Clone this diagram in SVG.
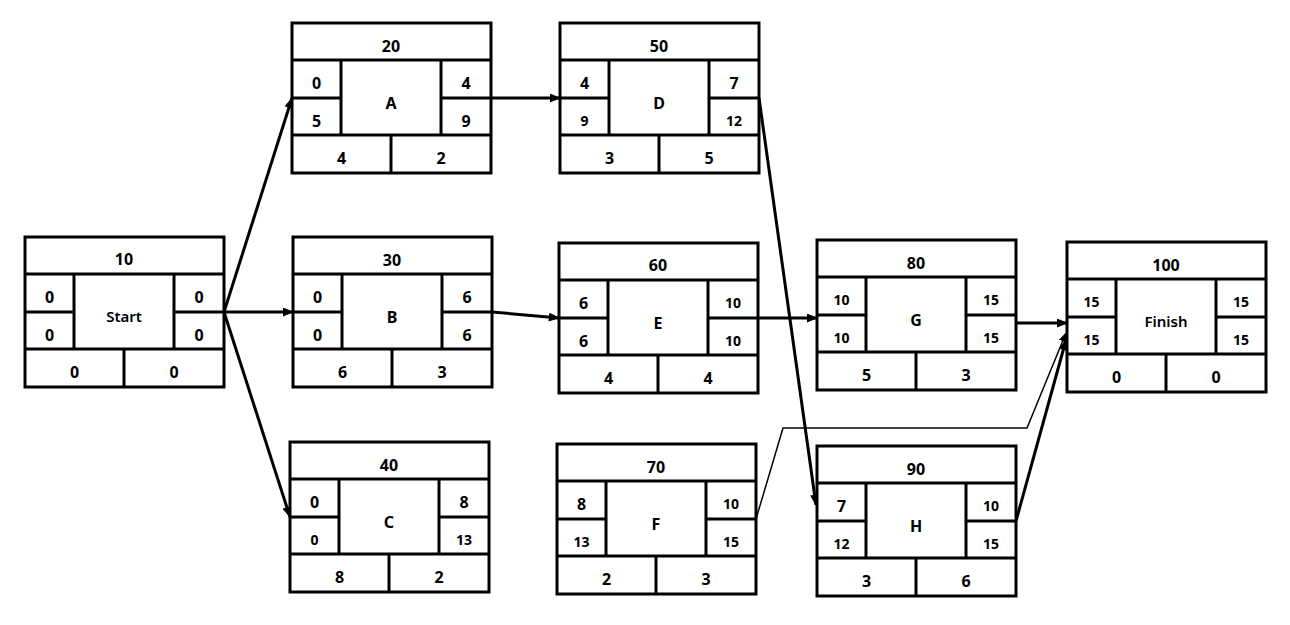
<svg xmlns="http://www.w3.org/2000/svg" width="1290" height="625" viewBox="0 0 1290 625">
<style>
.box{fill:#fff;stroke:#000;stroke-width:3}
.ln{stroke:#000;stroke-width:3;fill:none}
text{font-family:"Noto Sans","Liberation Sans",sans-serif;font-weight:bold;font-size:16px;text-anchor:middle;fill:#000}
.s{font-size:14px}
.m{font-size:15px;font-weight:600}
.c{stroke:#000;stroke-width:3;fill:none}
.t{stroke:#000;stroke-width:1.5;fill:none}
</style>
<defs>
<marker id="ah" viewBox="0 0 10 8" refX="9" refY="4" markerWidth="12" markerHeight="9" orient="auto" markerUnits="userSpaceOnUse"><path d="M0,0 L10,4 L0,8 z" fill="#000"/></marker>
<marker id="ahs" viewBox="0 0 10 8" refX="9" refY="4" markerWidth="10" markerHeight="8" orient="auto" markerUnits="userSpaceOnUse"><path d="M0,0 L10,4 L0,8 z" fill="#000"/></marker>
<g id="tpl">
<rect class="box" x="0" y="0" width="199" height="150"/>
<path class="ln" d="M0,37H199M0,112H199M0,75H49M149,75H199M49,37V112M149,37V112M99,112V150"/>
</g>
</defs>

<g id="connectors">
<line class="c" x1="224" y1="312" x2="292" y2="98" marker-end="url(#ah)"/>
<line class="c" x1="224" y1="312" x2="293" y2="312" marker-end="url(#ah)"/>
<line class="c" x1="224" y1="312" x2="290" y2="517" marker-end="url(#ah)"/>
<line class="c" x1="491" y1="98" x2="560" y2="98" marker-end="url(#ah)"/>
<line class="c" x1="759" y1="98" x2="816" y2="505" marker-end="url(#ah)"/>
<line class="c" x1="492" y1="312" x2="559" y2="318" marker-end="url(#ah)"/>
<line class="c" x1="758" y1="318" x2="817" y2="318" marker-end="url(#ah)"/>
<line class="c" x1="1016" y1="323" x2="1067" y2="323" marker-end="url(#ah)"/>
<polyline class="t" points="756,519 783,428 1027,428 1066,333" marker-end="url(#ahs)"/>
<line class="c" x1="1016" y1="521" x2="1066" y2="340" marker-end="url(#ah)"/>
</g>

<g id="n10" transform="translate(25,237)">
<use href="#tpl"/>
<text x="99" y="28">10</text>
<text x="24.5" y="65.5">0</text><text x="24.5" y="103.5">0</text>
<text x="174" y="65.5">0</text><text x="174" y="103.5">0</text>
<text class="m" x="99" y="85">Start</text>
<text x="49.5" y="140.5">0</text><text x="149" y="140.5">0</text>
</g>

<g id="n20" transform="translate(292,23)">
<use href="#tpl"/>
<text x="99" y="28.5">20</text>
<text x="24.5" y="65.5">0</text><text x="24.5" y="103.5">5</text>
<text x="174" y="65.5">4</text><text x="174" y="103.5">9</text>
<text x="99" y="85.5">A</text>
<text x="49.5" y="140.5">4</text><text x="149" y="140.5">2</text>
</g>

<g id="n50" transform="translate(560,23)">
<use href="#tpl"/>
<text x="99" y="28.5">50</text>
<text x="24.5" y="65.5">4</text><text class="s" x="24.5" y="102.5">9</text>
<text x="174" y="65.5">7</text><text class="s" x="174" y="102.5">12</text>
<text x="99" y="85.5">D</text>
<text x="49.5" y="140.5">3</text><text x="149" y="140.5">5</text>
</g>

<g id="n30" transform="translate(293,237)">
<use href="#tpl"/>
<text x="99" y="28.5">30</text>
<text x="24.5" y="65.5">0</text><text x="24.5" y="103.5">0</text>
<text x="174" y="65.5">6</text><text x="174" y="103.5">6</text>
<text x="99" y="85.5">B</text>
<text x="49.5" y="140.5">6</text><text x="149" y="140.5">3</text>
</g>

<g id="n60" transform="translate(559,243)">
<use href="#tpl"/>
<text x="99" y="28">60</text>
<text x="24.5" y="65.5">6</text><text x="24.5" y="103.5">6</text>
<text class="s" x="174" y="64.5">10</text><text class="s" x="174" y="102.5">10</text>
<text x="99" y="85.5">E</text>
<text x="49.5" y="140.5">4</text><text x="149" y="140.5">4</text>
</g>

<g id="n80" transform="translate(817,240)">
<use href="#tpl"/>
<text x="99" y="28.5">80</text>
<text class="s" x="24.5" y="64.5">10</text><text class="s" x="24.5" y="102.5">10</text>
<text class="s" x="174" y="64.5">15</text><text class="s" x="174" y="102.5">15</text>
<text x="99" y="85.5">G</text>
<text x="49.5" y="140.5">5</text><text x="149" y="140.5">3</text>
</g>

<g id="n100" transform="translate(1067,242)">
<use href="#tpl"/>
<text x="99" y="28.5">100</text>
<text class="s" x="24.5" y="64.5">15</text><text class="s" x="24.5" y="102.5">15</text>
<text class="s" x="174" y="64.5">15</text><text class="s" x="174" y="102.5">15</text>
<text class="m" x="99" y="85">Finish</text>
<text x="49.5" y="140.5">0</text><text x="149" y="140.5">0</text>
</g>

<g id="n40" transform="translate(290,442)">
<use href="#tpl"/>
<text x="99" y="28.5">40</text>
<text x="24.5" y="65.5">0</text><text class="s" x="24.5" y="102.5">0</text>
<text x="174" y="65.5">8</text><text class="s" x="174" y="102.5">13</text>
<text x="99" y="85.5">C</text>
<text x="49.5" y="140.5">8</text><text x="149" y="140.5">2</text>
</g>

<g id="n70" transform="translate(557,444)">
<use href="#tpl"/>
<text x="99" y="28.5">70</text>
<text x="24.5" y="65.5">8</text><text class="s" x="24.5" y="102.5">13</text>
<text class="s" x="174" y="64.5">10</text><text class="s" x="174" y="102.5">15</text>
<text x="99" y="85.5">F</text>
<text x="49.5" y="140.5">2</text><text x="149" y="140.5">3</text>
</g>

<g id="n90" transform="translate(817,446)">
<use href="#tpl"/>
<text x="99" y="28.5">90</text>
<text x="24.5" y="65.5">7</text><text class="s" x="24.5" y="102.5">12</text>
<text class="s" x="174" y="64.5">10</text><text class="s" x="174" y="102.5">15</text>
<text x="99" y="85.5">H</text>
<text x="49.5" y="140.5">3</text><text x="149" y="140.5">6</text>
</g>
</svg>
